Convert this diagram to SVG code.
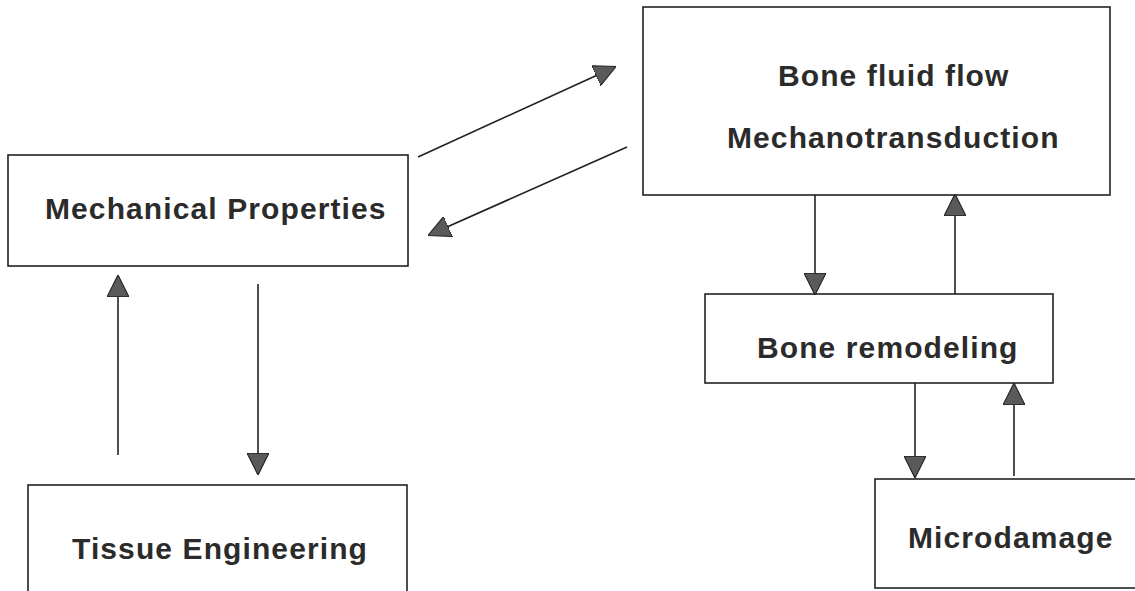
<svg xmlns="http://www.w3.org/2000/svg" width="1135" height="591" viewBox="0 0 1135 591">
  <style>
    .box { fill: #ffffff; stroke: #222222; stroke-width: 1.6; }
    .lbl { font-family: "Liberation Sans", Arial, sans-serif; font-weight: bold; font-size: 30px; letter-spacing: 1.1px; fill: #2b2b2b; }
    .conn { stroke: #222222; stroke-width: 1.6; fill: none; marker-end: url(#ah); }
  </style>
  <defs>
    <marker id="ah" markerUnits="userSpaceOnUse" markerWidth="22" markerHeight="22" viewBox="0 0 20 20" refX="19" refY="10" orient="auto">
      <path d="M0,0 L20,10 L0,20 Z" fill="#5a5a5a" stroke="#222222" stroke-width="1"/>
    </marker>
  </defs>
  <rect width="1135" height="591" fill="#ffffff"/>

  <g id="node-mechanical">
    <rect class="box" x="8" y="155" width="400" height="111"/>
    <text class="lbl" x="45" y="219">Mechanical Properties</text>
  </g>
  <g id="node-fluid">
    <rect class="box" x="643" y="7" width="467" height="188"/>
    <text class="lbl" x="778" y="86">Bone fluid flow</text>
    <text class="lbl" x="727" y="148">Mechanotransduction</text>
  </g>
  <g id="node-remodeling">
    <rect class="box" x="705" y="294" width="348" height="89"/>
    <text class="lbl" x="757" y="358">Bone remodeling</text>
  </g>
  <g id="node-microdamage">
    <rect class="box" x="875" y="479" width="280" height="109"/>
    <text class="lbl" x="908" y="548">Microdamage</text>
  </g>
  <g id="node-tissue">
    <rect class="box" x="28" y="485" width="379" height="120"/>
    <text class="lbl" x="72" y="559">Tissue Engineering</text>
  </g>

  <g id="connectors">
    <line class="conn" x1="418" y1="157" x2="615" y2="67"/>
    <line class="conn" x1="627" y1="147" x2="429" y2="235"/>
    <line class="conn" x1="118" y1="455" x2="118" y2="276"/>
    <line class="conn" x1="258" y1="284" x2="258" y2="474"/>
    <line class="conn" x1="815" y1="195" x2="815" y2="294"/>
    <line class="conn" x1="955" y1="294" x2="955" y2="195"/>
    <line class="conn" x1="915" y1="383" x2="915" y2="477"/>
    <line class="conn" x1="1014" y1="476" x2="1014" y2="384"/>
  </g>
</svg>
